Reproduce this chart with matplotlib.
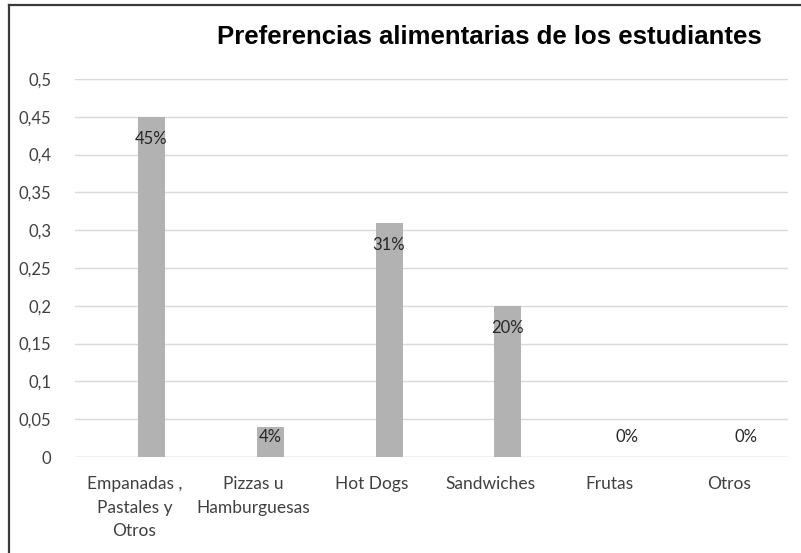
import matplotlib
matplotlib.use("Agg")
import matplotlib.pyplot as plt
from matplotlib.lines import Line2D
import numpy as np

categories = ["Empanadas ,\nPastales y\nOtros", "Pizzas u\nHamburguesas", "Hot Dogs",
              "Sandwiches", "Frutas", "Otros"]
values = [0.45, 0.04, 0.31, 0.20, 0.00, 0.00]
labels = ["45%", "4%", "31%", "20%", "0%", "0%"]
yticks = [0, 0.05, 0.1, 0.15, 0.2, 0.25, 0.3, 0.35, 0.4, 0.45, 0.5]
ytick_labels = ["0", "0,05", "0,1", "0,15", "0,2", "0,25", "0,3", "0,35", "0,4", "0,45", "0,5"]
title = "Preferencias alimentarias de los estudiantes"

W, H = 801, 553
fig = plt.figure(figsize=(W / 100, H / 100), dpi=100)
fig.patch.set_facecolor("white")

# plot area in pixel coordinates
left, right, top, bottom = 75, 788, 79, 457
ax = fig.add_axes([left / W, 1 - bottom / H, (right - left) / W, (bottom - top) / H])

font = "Lato"
txt = "#404040"

x = np.arange(len(categories))
offset = 0.143
width = 0.227
ax.bar(x + offset, values, width=width, color="#b2b2b2", zorder=3)

# value labels sit just inside the bar end, but never below a minimum height
for xi, v, lab in zip(x, values, labels):
    ly = max(v - 0.029, 0.0265)
    ax.text(xi + offset, ly, lab, ha="center", va="center", fontsize=12,
            family=font, color="#262626", zorder=4)

ax.set_xlim(-0.5, len(categories) - 0.5)
ax.set_ylim(0, 0.5)
ax.set_yticks(yticks)
ax.set_yticklabels(ytick_labels, family=font, fontsize=12, color=txt)
ax.set_xticks(x)
ax.set_xticklabels(categories, family=font, fontsize=12.5, color=txt, linespacing=1.55)
ax.tick_params(length=0)
ax.tick_params(axis="y", pad=17)
ax.tick_params(axis="x", pad=14)
ax.grid(axis="y", color="#d9d9d9", linewidth=1.0, zorder=0)
for s in ax.spines.values():
    s.set_visible(False)
ax.axhline(0, color="#d9d9d9", linewidth=1.0, zorder=2)

fig.text(217 / W, 1 - 37 / H, title, ha="left", va="center",
         family="Liberation Sans", fontweight="bold", fontsize=18.5, color="black")

# outer frame (left and top edges)
fig.add_artist(Line2D([8.5 / W, 8.5 / W], [0, 1 - 5 / H], transform=fig.transFigure,
                      color="#3a3a3a", linewidth=1.6))
fig.add_artist(Line2D([8.5 / W, 1], [1 - 5 / H, 1 - 5 / H], transform=fig.transFigure,
                      color="#3a3a3a", linewidth=1.6))

fig.savefig("out.png", dpi=100)
